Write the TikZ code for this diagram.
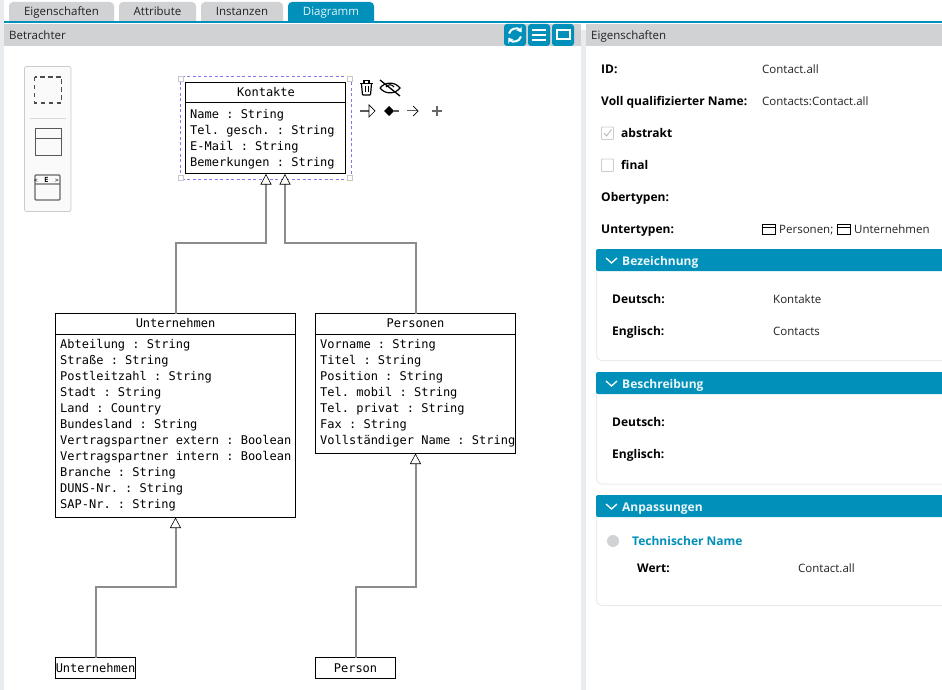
\documentclass[tikz,border=0pt]{standalone}
\usepackage{fontspec}
\setmainfont{Open Sans}
\setmonofont{DejaVu Sans Mono}
\usetikzlibrary{arrows.meta,positioning}
\definecolor{teal1}{HTML}{0090BA}
\definecolor{hdr}{HTML}{D0D2D3}
\definecolor{strip}{HTML}{E9ECEF}
\definecolor{txt}{HTML}{222222}
\tikzset{
 ui/.style={inner sep=0pt,anchor=base west,font=\fontsize{11.5}{14}\selectfont,text=txt},
 lab/.style={ui,font=\fontsize{12}{14}\selectfont\bfseries,text=black},
 sec/.style={ui,font=\fontsize{12}{14}\selectfont\bfseries,text=white!92!teal1},
 tabbox/.style={fill=hdr,rounded corners=4pt},
 tabtext/.style={inner sep=0pt,anchor=base,font=\fontsize{11.5}{14}\selectfont,text=txt},
 umlbox/.style={draw=black,line width=1pt,fill=white,inner sep=0pt,outer sep=0pt,anchor=north west},
 attr/.style={inner sep=0pt,anchor=base west,font=\fontsize{12}{14}\ttfamily\selectfont,text=black},
 umltitle/.style={inner sep=0pt,anchor=base,font=\fontsize{12}{14}\ttfamily\selectfont,text=black},
 gen/.style={draw=black!45,line width=2pt,-{Triangle[open,length=10.5pt,width=11pt,fill=white,color=black,line width=.6pt]}},
 panel/.style={draw=strip,line width=1pt,rounded corners=5pt,fill=white},
 secbar/.style={fill=teal1},
 chev/.style={draw=white,line width=1.3pt},
 btn/.style={fill=teal1,rounded corners=3pt},
 btnline/.style={draw=white,line width=2pt},
 handle/.style={draw=black!22,fill=white,line width=.7pt},
 tool/.style={draw=black!65,line width=1pt},
 chk/.style={draw=black!20,line width=.8pt,fill=white,rounded corners=.8pt},
}
\begin{document}
\begin{tikzpicture}[x=1pt,y=-1pt]
\clip (0,0) rectangle (942,690);
\fill[white] (0,0) rectangle (942,690);
% strips
\fill[strip] (0,0) rectangle (4,690);
\fill[strip] (581,24) rectangle (586,690);
% tabs
\path[tabbox] (9,2) rectangle (114,26);
\path[tabbox] (119,2) rectangle (196,26);
\path[tabbox] (201,2) rectangle (283,26);
\path[fill=teal1,rounded corners=4pt] (288,2) rectangle (374,26);
\fill[white] (4,23.5) rectangle (942,30);
\fill[teal1] (4,21) rectangle (942,23.5);
\node[tabtext] (t1) at (61.5,16) {Eigenschaften};
\node[tabtext] (t2) at (157.5,16) {Attribute};
\node[tabtext] (t3) at (242,16) {Instanzen};
\node[tabtext,text=white!90!teal1] (t4) at (331,16) {Diagramm};
% headers
\fill[hdr] (4,24) rectangle (581,46);
\fill[hdr] (586,24) rectangle (942,46);
\node[ui] (h1) at (9,39.7) {Betrachter};
\node[ui] (h2) at (591,39.7) {Eigenschaften};
% buttons
\path[btn] (504,24) rectangle (526,46);
\path[btn] (528,24) rectangle (550,46);
\path[btn] (552,24) rectangle (574,46);
\draw[white,line width=2pt,-{Stealth[length=5pt,width=6.5pt]}] (509,33.5) .. controls (510.5,28) and (518,27) .. (521.5,32.5);
\draw[white,line width=2pt,-{Stealth[length=5pt,width=6.5pt]}] (521,36.5) .. controls (519.5,42) and (512,43) .. (508.5,37.5);
\draw[btnline] (532,30) -- (546,30) (532,35) -- (546,35) (532,40) -- (546,40);
\draw[btnline] (556.5,30.5) rectangle (569.5,39.5);
% toolbar
\draw[draw=black!20,fill=black!2,line width=.8pt,rounded corners=2pt] (24.5,66.5) rectangle (71,211.5);
\draw[draw=black!70,line width=1.7pt,dash pattern=on 4.5pt off 3.5pt] (34.5,77) rectangle (61.5,103);
\draw[black!15,line width=.8pt] (30,118) -- (66,118);
\draw[tool] (35,129) rectangle (61,155) (35,139) -- (61,139);
\draw[black!60,line width=1.4pt,rounded corners=1pt] (35,175) rectangle (60,200) (35,184) -- (60,184);
\node[inner sep=0pt,font=\fontsize{7}{8}\ttfamily\bfseries\selectfont,fill=none] (te) at (46.5,180) {E};
\node[inner sep=0pt,font=\fontsize{6}{8}\ttfamily\selectfont] (tl) at (36,180.5) {<};
\node[inner sep=0pt,font=\fontsize{6}{8}\ttfamily\selectfont] (tr) at (57,180.5) {>};
% selection
\draw[draw={rgb,255:red,130;green,120;blue,240},dash pattern=on 3pt off 2.5pt,line width=.7pt] (180,76.5) rectangle (351.5,179.5);
\draw[handle] (178.5,76) rectangle (183.5,81);
\draw[handle] (347,76) rectangle (352,81);
\draw[handle] (178.5,175.5) rectangle (183.5,180.5);
\draw[handle] (347,175.5) rectangle (352,180.5);
% Kontakte
\node[umlbox,minimum width=160pt,minimum height=91pt] (k) at (185.5,82.5) {};
\draw[line width=1pt] (k.west |- 0,103) -- (k.east |- 0,103);
\node[umltitle] (kt) at (266,97) {Kontakte};
\foreach \i/\t in {0/Name : String,1/Tel. gesch. : String,2/E-Mail : String,3/Bemerkungen : String}
  \node[attr] (ka\i) at (190,118.3+16*\i) {\t};
% Unternehmen
\node[umlbox,minimum width=240pt,minimum height=204pt] (u) at (55.5,313.5) {};
\draw[line width=1pt] (u.west |- 0,334) -- (u.east |- 0,334);
\node[umltitle] (ut) at (175.5,327) {Unternehmen};
\foreach \i/\t in {0/Abteilung : String,1/Straße : String,2/Postleitzahl : String,3/Stadt : String,4/Land : Country,5/Bundesland : String,6/Vertragspartner extern : Boolean,7/Vertragspartner intern : Boolean,8/Branche : String,9/DUNS-Nr. : String,10/SAP-Nr. : String}
  \node[attr] (ua\i) at (60,348+16*\i) {\t};
% Personen
\node[umlbox,minimum width=200pt,minimum height=140pt] (p) at (315.5,313.5) {};
\draw[line width=1pt] (p.west |- 0,334) -- (p.east |- 0,334);
\node[umltitle] (pt) at (415.5,327) {Personen};
\foreach \i/\t in {0/Vorname : String,1/Titel : String,2/Position : String,3/Tel. mobil : String,4/Tel. privat : String,5/Fax : String,6/Vollständiger Name : String}
  \node[attr] (pa\i) at (320,348+16*\i) {\t};
% leaf boxes
\node[umlbox,minimum width=80pt,minimum height=21pt,font=\fontsize{12}{14}\ttfamily\selectfont] (lu) at (55.5,657.5) {Unternehmen};
\node[umlbox,minimum width=80pt,minimum height=21pt,font=\fontsize{12}{14}\ttfamily\selectfont] (lp) at (315.5,657.5) {Person};
% connectors
\coordinate (k1) at (266,174);
\coordinate (k2) at (285,174);
\coordinate (um) at (175.5,243);
\coordinate (pm) at (415.5,243);
\coordinate (lum) at (95.5,587);
\coordinate (lpm) at (355.5,587);
\draw[gen] (um |- u.north) -- (um) -| (k1);
\draw[gen] (pm |- p.north) -- (pm) -| (k2);
\draw[gen] (lum |- lu.north) -- (lum) -| (u.south);
\draw[gen] (lpm |- lp.north) -- (lpm) -| (p.south);
% context icons
\draw[black,line width=1.2pt,rounded corners=.8pt] (361.5,84) -- (362.5,95) -- (370.5,95) -- (371.5,84);
\draw[black,line width=1.2pt] (360,83.5) -- (373,83.5);
\draw[black,line width=1.1pt] (364,83) -- (364,80.8) -- (369,80.8) -- (369,83);
\draw[black,line width=.9pt] (365,86) -- (365,92.5) (368,86) -- (368,92.5);
\draw[black,line width=1.2pt] (380,88) .. controls (385,81.5) and (395,81.5) .. (400,88) .. controls (395,94.5) and (385,94.5) .. (380,88);
\draw[black,line width=1.1pt] (386,87) .. controls (388,84) and (392,84) .. (394,87);
\draw[black,line width=1.3pt] (380,80) -- (400,96);
\draw[black!65,line width=1.2pt] (360,111) -- (370,111);
\draw[black,line width=.7pt,fill=white] (369,105) -- (375,111) -- (369,117) -- cycle;
\fill[black] (384,111) -- (389,106) -- (394,111) -- (389,116) -- cycle;
\draw[black!65,line width=1.2pt] (393,111) -- (399,111);
\draw[black!65,line width=1pt] (407,111) -- (417,111);
\draw[black,line width=.7pt] (413,106) -- (418,111) -- (413,116);
\draw[black!60,line width=1.2pt] (432,111) -- (442,111) (437,106) -- (437,116);
% right labels
\node[lab] (l1) at (601,73.4) {ID:};
\node[ui] (v1) at (762,73.4) {Contact.all};
\node[lab] (l2) at (601,105.4) {Voll qualifizierter Name:};
\node[ui] (v2) at (762,105.4) {Contacts:Contact.all};
\draw[chk] (601.5,127) rectangle (613.5,139.5);
\draw[black!30,line width=.8pt] (604,133) -- (606.5,136) -- (611.5,129.5);
\node[lab] (l3) at (621,137.4) {abstrakt};
\draw[chk] (601.5,159) rectangle (613.5,171.5);
\node[lab] (l4) at (621,169) {final};
\node[lab] (l5) at (601,201) {Obertypen:};
\node[lab] (l6) at (601,233) {Untertypen:};
\draw[black,line width=.8pt] (762.5,224) rectangle (775.5,234.5) (762.5,227) -- (775.5,227);
\node[ui] (v3) at (779,233) {Personen;};
\draw[black,line width=.8pt] (837.5,224) rectangle (850.5,234.5) (837.5,227) -- (850.5,227);
\node[ui] (v4) at (854,233) {Unternehmen};
% section 1
\path[panel] (596.5,252) rectangle (960,360.5);
\path[secbar,rounded corners=2pt] (596,249) rectangle (960,271);
\draw[chev] (606,258) -- (611.5,263) -- (617,258);
\node[sec] (s1) at (622,265) {Bezeichnung};
\node[lab] (a1) at (612,303) {Deutsch:};
\node[ui] (a2) at (773,303) {Kontakte};
\node[lab] (a3) at (612,335) {Englisch:};
\node[ui] (a4) at (773,335) {Contacts};
% section 2
\path[panel] (596.5,375) rectangle (960,484);
\path[secbar,rounded corners=2pt] (596,372) rectangle (960,394);
\draw[chev] (606,381) -- (611.5,386) -- (617,381);
\node[sec] (s2) at (622,388) {Beschreibung};
\node[lab] (b1) at (612,426) {Deutsch:};
\node[lab] (b2) at (612,458) {Englisch:};
% section 3
\path[panel] (596.5,498) rectangle (960,605.5);
\path[secbar,rounded corners=2pt] (596,495) rectangle (960,517);
\draw[chev] (606,504) -- (611.5,509) -- (617,504);
\node[sec] (s3) at (622,511) {Anpassungen};
\fill[hdr] (613,541) circle[radius=6];
\node[lab,text=teal1] (c1) at (632,545) {Technischer Name};
\node[lab] (c2) at (637,572) {Wert:};
\node[ui] (c3) at (798,572) {Contact.all};
\end{tikzpicture}
\end{document}
